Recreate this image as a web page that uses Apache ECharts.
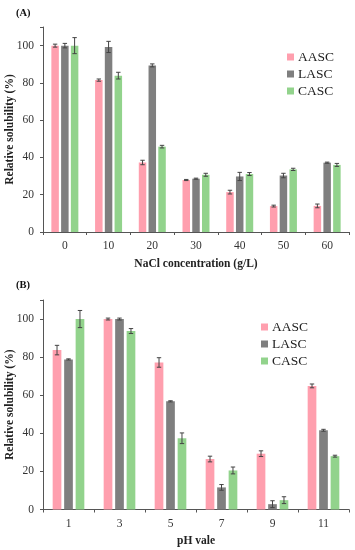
<!DOCTYPE html>
<html><head><meta charset="utf-8">
<script src="https://cdn.jsdelivr.net/npm/echarts@6/dist/echarts.min.js"></script>
<style>html,body{margin:0;padding:0;background:#fff}#c{width:355px;height:550px}</style>
</head><body><div id="c"></div>
<script>
const seriesNames = ['AASC','LASC','CASC'];
const colors = ['#FF9FAE','#7F7F7F','#92D38C'];
// Panel A
const naclCats = ['0','10','20','30','40','50','60'];
const aAASC = [100, 81.5, 37.3, 27.9, 21.4, 13.9, 14.0];
const aLASC = [100, 99.3, 89.4, 28.6, 29.8, 30.3, 37.2];
const aCASC = [100, 83.9, 45.8, 30.7, 31.1, 33.6, 36.0];
const aAASCerr = [0.8, 0.6, 1.2, 0.3, 1.0, 0.5, 1.0];
const aLASCerr = [1.2, 3.0, 0.8, 0.3, 2.2, 1.2, 0.3];
const aCASCerr = [4.3, 1.8, 0.7, 0.8, 0.8, 0.6, 0.8];
// Panel B
const phCats = ['1','3','5','7','9','11'];
const bAASC = [83.7, 100, 77.2, 26.5, 29.3, 64.9];
const bLASC = [78.8, 100, 56.8, 11.6, 2.8, 41.6];
const bCASC = [100, 93.7, 37.4, 20.5, 4.9, 28.0];
const bAASCerr = [2.5, 0.5, 2.5, 1.5, 1.5, 1.0];
const bLASCerr = [0.3, 0.5, 0.3, 1.5, 1.8, 0.5];
const bCASCerr = [4.5, 1.3, 2.8, 1.8, 1.8, 0.5];
const yTicks = [0, 20, 40, 60, 80, 100];

const FONT = '"Liberation Serif", "DejaVu Serif", serif';
const chart = echarts.init(document.getElementById('c'), null, {renderer:'canvas'});

function xAxis(idx, cats, name, nameGap){
  return {type:'category', gridIndex:idx, data:cats, name:name, nameLocation:'middle', nameGap:nameGap,
    nameMoveOverlap:false,
    nameTextStyle:{fontFamily:FONT, fontWeight:'bold', fontSize:11.5, color:'#222'},
    axisLine:{lineStyle:{color:'#555', width:1}}, axisTick:{show:true, length:3, lineStyle:{color:'#555'}},
    axisLabel:{fontFamily:FONT, fontSize:11.5, color:'#333', margin:8}};
}
function yAxis(idx){
  return {type:'value', gridIndex:idx, min:0, max:110, interval:20, name:'Relative solubility (%)',
    nameLocation:'middle', nameGap:27, nameRotate:90, nameMoveOverlap:false,
    nameTextStyle:{fontFamily:FONT, fontWeight:'bold', fontSize:11.5, color:'#222'},
    axisLine:{show:true, lineStyle:{color:'#555', width:1}}, axisTick:{show:true, length:3, lineStyle:{color:'#555'}},
    splitLine:{show:false},
    axisLabel:{fontFamily:FONT, fontSize:11.5, color:'#333', margin:9,
      formatter: v => yTicks.indexOf(v) >= 0 ? String(v) : ''}};
}

function barSeries(axisIdx, vals, name, ci, bw, gap){
  return {type:'bar', name:name, xAxisIndex:axisIdx, yAxisIndex:axisIdx, data:vals, barWidth:bw, barGap:gap,
    itemStyle:{color:colors[ci]}, silent:true, z:2};
}
function errSeries(axisIdx, vals, errs, ci, bw, gapRatio){
  const data = vals.map((v,i)=>[i, v, errs[i]]);
  return {type:'custom', xAxisIndex:axisIdx, yAxisIndex:axisIdx, data:data, z:5, silent:true,
    renderItem:function(params, api){
      const x = api.value(0), v = api.value(1), e = api.value(2);
      const pitch = bw*(1+gapRatio);
      const off = (ci-1)*pitch;
      const hi = api.coord([x, v+e]);
      const lo = api.coord([x, v-e]);
      const cx = hi[0] + off;
      const cap = 2.2;
      const st = {stroke:'#444', lineWidth:1};
      return {type:'group', children:[
        {type:'line', shape:{x1:cx, y1:hi[1], x2:cx, y2:lo[1]}, style:st},
        {type:'line', shape:{x1:cx-cap, y1:hi[1], x2:cx+cap, y2:hi[1]}, style:st},
        {type:'line', shape:{x1:cx-cap, y1:lo[1], x2:cx+cap, y2:lo[1]}, style:st}
      ]};
    }};
}

const A = [aAASC, aLASC, aCASC], Ae = [aAASCerr, aLASCerr, aCASCerr];
const B = [bAASC, bLASC, bCASC], Be = [bAASCerr, bLASCerr, bCASCerr];
const bwA = 7.5, gA = 0.3, bwB = 8.7, gB = 0.32;
const series = [];
seriesNames.forEach((n,i)=>series.push(barSeries(0, A[i], n, i, bwA, (gA*100)+'%')));
seriesNames.forEach((n,i)=>series.push(barSeries(1, B[i], n, i, bwB, (gB*100)+'%')));
seriesNames.forEach((n,i)=>series.push(errSeries(0, A[i], Ae[i], i, bwA, gA)));
seriesNames.forEach((n,i)=>series.push(errSeries(1, B[i], Be[i], i, bwB, gB)));

function legend(idx, left, top){
  return {show:true, orient:'vertical', left:left, top:top, itemWidth:7, itemHeight:7, itemGap:3,
    selectedMode:false, icon:'rect',
    data: seriesNames.map(n=>({name:n})),
    textStyle:{fontFamily:FONT, fontSize:13.5, color:'#222', padding:[0,0,0,-1]}};
}

chart.setOption({
  animation:false,
  title:[
    {text:'(A)', left:11, top:3, textStyle:{fontFamily:FONT, fontWeight:'bold', fontSize:10.5, color:'#111'}},
    {text:'(B)', left:11, top:275, textStyle:{fontFamily:FONT, fontWeight:'bold', fontSize:10.5, color:'#111'}}
  ],
  legend:[legend(0, 282, 45), legend(1, 256, 315)],
  grid:[
    {left:43, right:6, top:27, height:205, containLabel:false, outerBoundsMode:'none'},
    {left:43, right:6, top:300, height:209.5, containLabel:false, outerBoundsMode:'none'}
  ],
  xAxis:[xAxis(0, naclCats, 'NaCl concentration (g/L)', 26), xAxis(1, phCats, 'pH vale', 26)],
  yAxis:[yAxis(0), yAxis(1)],
  series:series
});
</script></body></html>
